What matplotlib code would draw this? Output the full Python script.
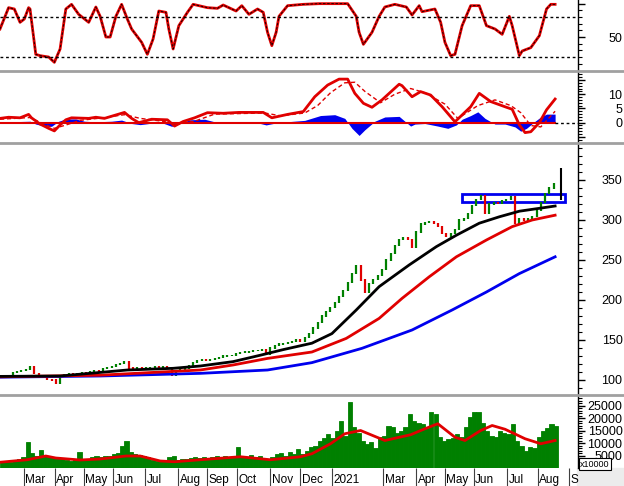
import matplotlib
matplotlib.use("Agg")
import matplotlib.pyplot as plt
import matplotlib.transforms as mtransforms
from matplotlib.ticker import FixedLocator, FixedFormatter, MultipleLocator
from matplotlib.patches import Rectangle
from matplotlib.lines import Line2D

plt.rcParams['font.family'] = ['Liberation Sans', 'DejaVu Sans']

GREEN = '#008000'
RED = '#e00000'
BLUE = '#0000ee'

# x axis is in trading sessions, candles / volume sampled every 3 sessions
close = [105, 106, 106, 109, 111, 112, 113, 117, 108, 106,
         105, 101, 100, 96, 106, 107, 108, 107, 108, 109,
         108, 110, 112, 111, 114, 116, 117, 119, 121, 123,
         115, 114, 115, 114, 115, 116, 117, 116, 117, 115,
         106, 111, 113, 115, 118, 122, 124, 125, 124, 126,
         127, 128, 130, 131, 131, 133, 134, 135, 136, 137,
         137, 138, 132, 140, 143, 145, 146, 147, 148, 150,
         148, 153, 158, 165, 172, 180, 186, 191, 197, 204,
         212, 222, 233, 243, 225, 210, 221, 226, 231, 238,
         250, 258, 268, 276, 278, 276, 266, 285, 295, 297,
         298, 296, 292, 283, 279, 283, 288, 300, 302, 308,
         318, 326, 331, 308, 320, 322, 321, 324, 326, 329,
         296, 302, 299, 302, 304, 312, 322, 333, 340, 346]

volume = [2300, 2500, 2400, 2800, 3500,
          4300, 10300, 6000, 5000, 7300, 4800, 4300, 4500, 4000, 4200,
          3300, 3000, 3600, 6300, 3200, 3400, 4500, 4800, 4500, 5000,
          5000, 5800, 6000, 9000, 11000, 6500, 5500, 5300, 4800, 4500,
          3300, 3000, 3200, 2800, 4300, 5000, 3200, 3500, 3800, 4000,
          4300, 4000, 4500, 4200, 4600, 4800, 4300, 5000, 4500, 4800,
          8300, 5000, 4600, 5200, 4400, 4800, 4200, 3800, 4500, 5500,
          6000, 5000, 6500, 5500, 7500, 5500, 7000, 8300, 9000, 11000,
          12000, 13700, 12000, 15000, 19000, 13000, 26300, 16300, 14000, 11000,
          9700, 10300, 8000, 12300, 13000, 17000, 16300, 14000, 15000, 16300,
          21700, 19000, 18000, 17500, 16000, 22300, 21700, 12300, 11000, 11500,
          12000, 13700, 12500, 16300, 20300, 22300, 22300, 18000, 15000, 13000,
          12300, 15000, 14000, 13500, 17700, 11000, 9000, 7000, 8300, 8000,
          12300, 15000, 16000, 17700, 17000]
candle_x = [3 * i for i in range(len(close))]

vol_ma_x = [0, 19, 32, 39, 56, 70, 88, 98, 112, 122, 140, 168, 189, 210, 218,
            231, 241, 252, 269, 287, 297, 306, 318, 325, 336, 344, 353, 367, 378, 388]
vol_ma = [2300, 3300, 4800, 4000, 3200, 3600, 4800, 4800, 2800, 2500, 3300, 4500, 3300, 4500, 5700,
          9700, 13700, 15000, 11000, 13300, 15700, 17700, 12300, 11000, 15000, 17000, 15500, 11700, 9700, 11000]

# moving averages on price
ma_black_x = [0, 42, 89, 121, 140, 163, 182, 198, 218, 232, 249, 265, 286, 305, 319, 335, 349, 363, 377, 388]
ma_black = [104.5, 105, 112.5, 114.6, 117.5, 123, 131, 138, 146, 158, 187.5, 216.7, 243.8, 266.7,
            281, 296, 304, 311, 314.6, 317.5]
ma_red_x = [0, 70, 117, 140, 163, 187, 218, 242, 265, 281, 300, 319, 340, 358, 372, 388]
ma_red = [104, 106, 110.4, 112.5, 118.8, 127, 135, 152, 177, 202, 229, 254, 275, 291.7, 300, 306]
ma_blue_x = [0, 70, 140, 187, 218, 253, 288, 316, 340, 363, 388]
ma_blue = [103.5, 105, 108.3, 112.5, 121.7, 139.6, 162.5, 187.5, 210, 233, 254]

# stochastic oscillator
stoch_x = [0, 6, 10, 14, 17, 20, 21, 25, 28, 34, 38, 42, 46, 50, 55, 62, 67, 70, 74, 77,
           81, 85, 89, 92, 99, 103, 107, 111, 116, 118, 121, 125, 131, 135, 145, 152, 156, 165, 169, 174,
           180, 184, 187, 190, 193, 195, 201, 212, 223, 243, 249, 251, 254, 260, 265, 269, 276, 284, 288, 293,
           295, 304, 308, 311, 315, 318, 323, 329, 335, 340, 346, 351, 356, 358, 363, 365, 371, 377, 382, 385, 388]
stoch = [62, 94, 92, 72, 77, 94, 92, 24, 22, 20, 12, 32, 92, 99, 84, 72, 95, 81, 50, 50,
         81, 99, 77, 62, 42, 24, 47, 89, 87, 62, 32, 67, 87, 99, 94, 93, 98, 89, 97, 84,
         92, 87, 57, 37, 57, 81, 97, 99, 100, 100, 81, 57, 39, 57, 81, 95, 99, 95, 83, 97,
         88, 92, 72, 42, 22, 24, 67, 97, 97, 67, 62, 54, 81, 67, 22, 29, 34, 52, 92, 99, 99]

# MACD
macd_x = [0, 6, 14, 20, 22, 28, 34, 38, 42, 46, 50, 62, 67, 73, 81, 87, 92, 97, 106, 117,
          122, 128, 136, 145, 156, 167, 184, 190, 201, 212, 220, 229, 237, 243, 248, 254, 260, 267, 279, 281,
          288, 294, 301, 309, 318, 323, 329, 335, 343, 354, 358, 363, 367, 371, 377, 382, 388]
macd = [1.5, 1.9, 1.7, 2.9, 1.7, -0.5, -2, -2.9, -0.8, 1, 1.7, 1.5, 1.9, 1.5, 2.7, 3.6, 1.5, 0, 1.2, 1,
        -1.2, 0.4, 1.7, 3.5, 3.3, 3.6, 3.6, 1.7, 2.9, 3.9, 9.1, 13.2, 15.3, 15.3, 10.3, 6.8, 5.4, 8, 13.5, 13,
        9.1, 10.9, 9.7, 5.6, 0.3, 2.7, 5.6, 10.3, 7.4, 5.4, 4.7, -0.8, -3.5, -3.2, 0, 4.5, 8.3]
signal_x = [0, 21, 32, 38, 45, 56, 70, 87, 98, 112, 125, 136, 150, 185, 196, 213, 222, 231, 241, 248,
            255, 266, 276, 287, 297, 311, 320, 334, 346, 357, 364, 371, 378, 388]
signal = [1.2, 1.8, -0.8, -2.0, -1.0, 0.8, 1.6, 2.8, 1.5, 0.6, -0.5, 0.5, 3.0, 3.4, 2.4, 3.4, 6, 10.5, 14, 14.2,
          11, 7, 10, 12, 10.5, 6.5, 1.5, 6, 8, 6, 3.5, -1, -1.5, 4]
hist_x = [0, 14, 21, 25, 31, 36, 41, 46, 53, 59, 67, 78, 85, 92, 98, 112, 120, 126, 133, 143,
          150, 168, 182, 186, 192, 203, 213, 224, 234, 241, 246, 251, 255, 262, 269, 279, 283, 287, 290, 297,
          306, 313, 319, 323, 329, 334, 339, 346, 353, 360, 364, 368, 374, 378, 382, 388]
hist = [0.3, 0.4, 0.5, -0.5, -1.2, -1.3, 0.5, 1.3, 1.3, 0.5, 0.3, 0.5, 0.9, -0.3, -0.7, 0.2, -1.3, 0, 1.0, 1.2,
        0.3, 0, -0.3, -0.8, -0.2, 0.4, 0.8, 2.5, 2.8, 1.5, -2, -4.5, -2.5, 0.5, 2, 2.2, 0.5, -1.2, -0.5, -0.3,
        -1.2, -2, -0.8, 1.2, 2.5, 3.8, 1.5, -0.5, -0.5, -1.5, -3, -2, 0.5, 2, 3, 3]

# resistance box and last-session bar
box_x0, box_x1 = 323, 395
box_lo, box_hi = 322, 332
last_x, last_lo, last_hi = 392, 325, 365

month_pos = [16.8, 38.5, 58.8, 79.1, 101.5, 124.6, 144.9, 165.9, 189, 210, 232.2,
             268, 291, 310.8, 331, 354.7, 375.7, 397.8]
month_lab = ['Mar', 'Apr', 'May', 'Jun', 'Jul', 'Aug', 'Sep', 'Oct', 'Nov', 'Dec', '2021',
             'Mar', 'Apr', 'May', 'Jun', 'Jul', 'Aug', 'S']

fig = plt.figure(figsize=(6.24, 4.86), dpi=100)
W = 578 / 624
H = 486
ax_st = fig.add_axes([0, 1 - 70 / H, W, 70 / H])
ax_md = fig.add_axes([0, 1 - 142 / H, W, 70 / H])
ax_pr = fig.add_axes([0, 1 - 394 / H, W, 250 / H])
ax_vo = fig.add_axes([0, 18 / H, W, 72 / H])


def style(ax, ylim, majors, labels, minor):
    ax.set_xlim(0, 404)
    ax.set_ylim(*ylim)
    for s in ['top', 'bottom', 'left']:
        ax.spines[s].set_visible(False)
    ax.spines['right'].set_linewidth(1)
    ax.yaxis.tick_right()
    ax.yaxis.set_major_locator(FixedLocator(majors))
    ax.yaxis.set_major_formatter(FixedFormatter(labels))
    ax.yaxis.set_minor_locator(MultipleLocator(minor))
    ax.tick_params(axis='y', which='major', length=5, width=1, pad=27, labelsize=9)
    ax.tick_params(axis='y', which='minor', length=3, width=0.8)
    for lbl in ax.get_yticklabels():
        lbl.set_horizontalalignment('right')
    ax.set_xticks([])


# stochastic
ax_st.plot(stoch_x, stoch, color=RED, lw=2)
ax_st.plot(stoch_x, stoch, color='black', lw=0.6, ls=(0, (3, 2)))
ax_st.axhline(80, color='black', lw=1, ls=(0, (2, 2)))
ax_st.axhline(20, color='black', lw=1, ls=(0, (2, 2)))
style(ax_st, (0.5, 105.5), [0, 50, 100], ['', '50', ''], 10)

# MACD
ax_md.fill_between(hist_x, 0, hist, color=BLUE, lw=0, interpolate=True)
ax_md.plot([0, 388], [0, 0], color=RED, lw=1.5)
ax_md.plot([388, 404], [0, 0], color='black', lw=1, ls=(0, (2, 2)))
ax_md.plot(signal_x, signal, color=RED, lw=1, ls=(0, (3, 2)))
ax_md.plot(macd_x, macd, color=RED, lw=2)
style(ax_md, (-6.8, 17.8), [-5, 0, 5, 10, 15], ['', '0', '5', '10', ''], 1)

# price
seg_x, seg_lo, seg_hi, seg_c = [], [], [], []
for i, c in enumerate(close):
    o = close[i - 1] if i else c
    seg_x.append(candle_x[i])
    seg_lo.append(min(o, c) - 0.8)
    seg_hi.append(max(o, c) + 0.8)
    seg_c.append(GREEN if c >= o else RED)
ax_pr.vlines(seg_x, seg_lo, seg_hi, colors=seg_c, lw=1.6)
ax_pr.plot(ma_blue_x, ma_blue, color=BLUE, lw=2)
ax_pr.plot(ma_red_x, ma_red, color=RED, lw=2)
ax_pr.plot(ma_black_x, ma_black, color='black', lw=2)
ax_pr.add_patch(Rectangle((box_x0, box_lo), box_x1 - box_x0, box_hi - box_lo,
                          fill=False, ec=BLUE, lw=2))
ax_pr.vlines(last_x, last_lo, last_hi, color='black', lw=1.5)
style(ax_pr, (82.5, 395), [100, 150, 200, 250, 300, 350],
      ['100', '150', '200', '250', '300', '350'], 10)

# volume
ax_vo.bar(candle_x, volume, width=3, color=GREEN, ec=GREEN, lw=0.6, align='edge')
ax_vo.plot(vol_ma_x, vol_ma, color=RED, lw=2)
style(ax_vo, (0, 28800), [5000, 10000, 15000, 20000, 25000],
      ['5000', '10000', '15000', '20000', '25000'], 1000)
ax_vo.set_xticks(month_pos)
ax_vo.tick_params(axis='x', length=13, width=0.8, color='#404040', labelbottom=False)
trans = mtransforms.blended_transform_factory(ax_vo.transData, ax_vo.transAxes)
for p, lab in zip(month_pos, month_lab):
    ax_vo.text(p + 0.9, -0.09, lab, transform=trans, va='top', ha='left', fontsize=8.5)

# panel separators and corner
for y in [71, 143, 395]:
    fig.add_artist(Line2D([0, 1], [1 - y / H] * 2, color='#a0a0a0', lw=2))
fig.add_artist(Rectangle((577 / 624, 0), 47 / 624, 18 / H, transform=fig.transFigure,
                         color='#ececec', zorder=0))
fig.text(580 / 624, 1 - 464 / H, 'x10000', fontsize=6.5, va='center', ha='left',
         bbox=dict(boxstyle='square,pad=0.15', fc='white', ec='black', lw=0.8))

fig.savefig('out.png', dpi=100)
